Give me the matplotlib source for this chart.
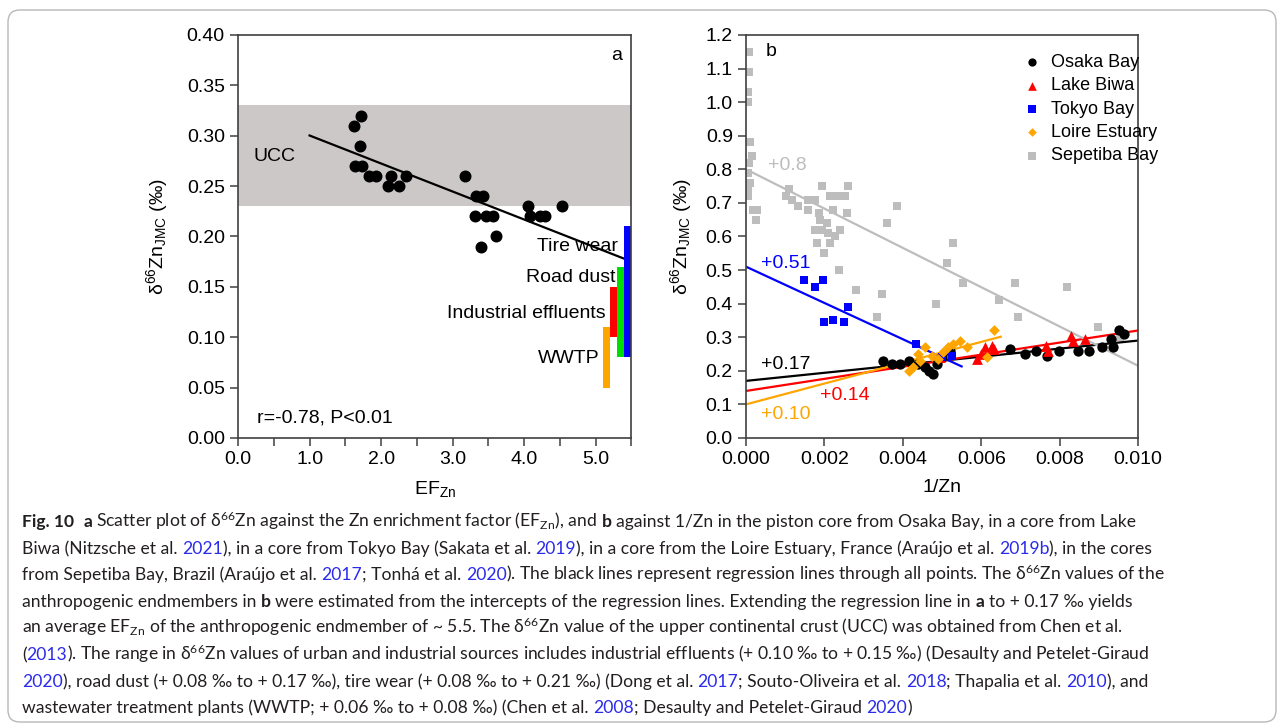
import matplotlib
matplotlib.use("Agg")
import matplotlib.pyplot as plt
from matplotlib.patches import FancyBboxPatch

plt.rcParams["font.family"] = ["Liberation Sans", "DejaVu Sans"]
plt.rcParams["mathtext.default"] = "regular"

# (a) Osaka Bay core: enrichment factor vs d66Zn
ef_zn = [1.72, 1.62, 1.70, 1.64, 1.73, 1.83, 1.93, 2.14, 2.35, 2.10, 2.25, 3.17,
         3.33, 3.43, 3.31, 3.46, 3.57, 3.61, 3.40, 4.06, 4.08, 4.22, 4.29, 4.53]
d66_a = [0.32, 0.31, 0.29, 0.27, 0.27, 0.26, 0.26, 0.26, 0.26, 0.25, 0.25, 0.26,
         0.24, 0.24, 0.22, 0.22, 0.22, 0.20, 0.19, 0.23, 0.22, 0.22, 0.22, 0.23]
fit_a = (-0.0278, 0.328)          # slope, intercept
fit_a_span = (1.0, 5.5)
ucc = (0.23, 0.33)

sources = ["WWTP", "Industrial effluents", "Road dust", "Tire wear"]
source_lo = [0.05, 0.10, 0.08, 0.08]
source_hi = [0.11, 0.15, 0.17, 0.21]
source_colors = ["#ffa500", "#ff0000", "#00dd00", "#0000ff"]

# (b) d66Zn vs 1/Zn for the different cores
osaka_x = [0.00350, 0.00372, 0.00393, 0.00415, 0.00440, 0.00457, 0.00466, 0.00478,
           0.00487, 0.00500, 0.00521, 0.00673, 0.00712, 0.00740, 0.00769, 0.00798,
           0.00846, 0.00876, 0.00907, 0.00935, 0.00932, 0.00952, 0.00964]
osaka_y = [0.23, 0.22, 0.22, 0.23, 0.22, 0.21, 0.20, 0.19, 0.22, 0.24, 0.26, 0.265,
           0.25, 0.26, 0.245, 0.26, 0.26, 0.26, 0.27, 0.27, 0.295, 0.32, 0.31]
biwa_x = [0.00495, 0.00590, 0.00600, 0.00610, 0.00627, 0.00632, 0.00765, 0.00770,
          0.00828, 0.00835, 0.00864]
biwa_y = [0.24, 0.235, 0.25, 0.27, 0.275, 0.265, 0.275, 0.26, 0.305, 0.29, 0.295]
tokyo_x = [0.00149, 0.00176, 0.00196, 0.00199, 0.00221, 0.00250, 0.00261, 0.00434,
           0.00499, 0.00525]
tokyo_y = [0.47, 0.45, 0.47, 0.345, 0.35, 0.345, 0.39, 0.28, 0.24, 0.245]
loire_x = [0.00417, 0.00425, 0.00440, 0.00445, 0.00457, 0.00474, 0.00490, 0.00502,
           0.00515, 0.00529, 0.00546, 0.00563, 0.00614, 0.00633]
loire_y = [0.20, 0.21, 0.25, 0.23, 0.27, 0.245, 0.235, 0.255, 0.27, 0.28, 0.29, 0.27,
           0.24, 0.32]
sep_x = [0.00008, 0.00008, 0.00006, 0.00006, 0.00010, 0.00015, 0.00008, 0.00010,
         0.00005, 0.00006, 0.00018, 0.00028, 0.00025, 0.00005,
         0.00110, 0.00103, 0.00117, 0.00133, 0.00159, 0.00176, 0.00193, 0.00214,
         0.00231, 0.00253, 0.00261, 0.00159, 0.00185, 0.00189, 0.00223, 0.00257,
         0.00176, 0.00193, 0.00206, 0.00210, 0.00240, 0.00180, 0.00214, 0.00227,
         0.00199, 0.00238, 0.00281, 0.00348, 0.00335, 0.00359, 0.00386, 0.00514,
         0.00529, 0.00553, 0.00485, 0.00645, 0.00686, 0.00695, 0.00820, 0.00899,
         0.00954]
sep_y = [1.15, 1.09, 1.03, 1.00, 0.88, 0.84, 0.82, 0.76, 0.74, 0.72, 0.68, 0.68,
         0.65, 0.79,
         0.74, 0.72, 0.71, 0.69, 0.71, 0.71, 0.75, 0.72, 0.72, 0.72, 0.75, 0.68,
         0.67, 0.65, 0.68, 0.67, 0.62, 0.62, 0.64, 0.61, 0.62, 0.58, 0.58, 0.60,
         0.55, 0.50, 0.44, 0.43, 0.36, 0.64, 0.69, 0.52, 0.58, 0.46, 0.40, 0.41,
         0.46, 0.36, 0.45, 0.33, 0.30]

cores = ["Osaka Bay", "Lake Biwa", "Tokyo Bay", "Loire Estuary", "Sepetiba Bay"]
intercepts = [0.17, 0.14, 0.51, 0.10, 0.8]
slopes = [12.0, 18.0, -54.0, 31.0, -58.5]
fit_end = [0.010, 0.010, 0.0055, 0.0065, 0.010]
core_colors = ["black", "#ff0000", "#0000ff", "#ffa500", "#bdbdbd"]
core_markers = ["o", "^", "s", "D", "s"]
core_sizes = [55, 60, 40, 30, 40]

fig = plt.figure(figsize=(12.84, 7.28), dpi=100)
ax_a = fig.add_axes([0.1854, 0.3984, 0.3064, 0.5536])
ax_b = fig.add_axes([0.5810, 0.3984, 0.3053, 0.5536])

for ax in (ax_a, ax_b):
    for s in ax.spines.values():
        s.set_color("#404040")
        s.set_linewidth(1.2)
    ax.tick_params(direction="out", length=6, width=1.1, color="#404040",
                   labelsize=14, top=False, right=False)

# ---- panel a ----
ax_a.axhspan(ucc[0], ucc[1], color="#ccc8c8", lw=0, zorder=0)
ax_a.scatter(ef_zn, d66_a, s=58, color="black", zorder=3)
xs = list(fit_a_span)
ax_a.plot(xs, [fit_a[0] * v + fit_a[1] for v in xs], color="black", lw=1.6, zorder=2)
for i, name in enumerate(sources):
    ax_a.bar(5.1 + 0.1 * i, source_hi[i] - source_lo[i], bottom=source_lo[i],
             width=0.1, align="edge", color=source_colors[i], zorder=2)
ax_a.text(0.22, 0.279, "UCC", fontsize=14, va="center")
ax_a.text(5.31, 0.19, "Tire wear", fontsize=14, va="center", ha="right")
ax_a.text(5.28, 0.159, "Road dust", fontsize=14, va="center", ha="right")
ax_a.text(5.14, 0.124, "Industrial effluents", fontsize=14, va="center", ha="right")
ax_a.text(5.06, 0.079, "WWTP", fontsize=14, va="center", ha="right")
ax_a.text(0.27, 0.02, "r=-0.78, P<0.01", fontsize=14, va="center")
ax_a.text(5.22, 0.38, "a", fontsize=14, va="center")

ax_a.set_xlim(0, 5.5)
ax_a.set_ylim(0, 0.40)
ax_a.set_xticks([i * 0.5 for i in range(12)])
ax_a.set_xticklabels(["%.1f" % (i * 0.5) if i % 2 == 0 else "" for i in range(12)])
ax_a.set_yticks([i * 0.05 for i in range(9)])
ax_a.set_yticklabels(["%.2f" % (i * 0.05) for i in range(9)])
ax_a.set_xlabel("EF$_{Zn}$", fontsize=14, labelpad=8)
ax_a.set_ylabel("δ$^{66}$Zn$_{JMC}$ (‰)", fontsize=14, labelpad=12)

# ---- panel b ----
series = [(osaka_x, osaka_y), (biwa_x, biwa_y), (tokyo_x, tokyo_y),
          (loire_x, loire_y), (sep_x, sep_y)]
for i in range(len(cores)):
    x, y = series[i]
    ax_b.scatter(x, y, s=core_sizes[i], marker=core_markers[i], color=core_colors[i],
                 linewidths=0, label=cores[i], zorder=1 if i == 4 else 3)
    ax_b.plot([0, fit_end[i]], [intercepts[i], intercepts[i] + slopes[i] * fit_end[i]],
              color=core_colors[i], lw=1.6, zorder=2)

ax_b.text(0.00055, 0.81, "+0.8", color="#bdbdbd", fontsize=14, va="center")
ax_b.text(0.00037, 0.52, "+0.51", color="#0000ff", fontsize=14, va="center")
ax_b.text(0.00037, 0.22, "+0.17", color="black", fontsize=14, va="center")
ax_b.text(0.0019, 0.125, "+0.14", color="#ff0000", fontsize=14, va="center")
ax_b.text(0.00037, 0.07, "+0.10", color="#ffa500", fontsize=14, va="center")
ax_b.text(0.0005, 1.15, "b", fontsize=14, va="center")

ax_b.set_xlim(0, 0.010)
ax_b.set_ylim(0, 1.2)
ax_b.set_xticks([i * 0.002 for i in range(6)])
ax_b.set_xticklabels(["%.3f" % (i * 0.002) for i in range(6)])
ax_b.set_yticks([i * 0.1 for i in range(13)])
ax_b.set_yticklabels(["%.1f" % (i * 0.1) for i in range(13)])
ax_b.set_xlabel("1/Zn", fontsize=14, labelpad=8)
ax_b.set_ylabel("δ$^{66}$Zn$_{JMC}$ (‰)", fontsize=14, labelpad=8)
ax_b.legend(loc="upper left", bbox_to_anchor=(0.664, 0.993), frameon=False,
            fontsize=13, handlelength=1.0, handletextpad=0.6, labelspacing=0.35,
            markerscale=0.8)

# ---- caption ----
N, B, L = "n", "b", "l"
caption = [
    [("Fig. 10", B), (" ", N), ("a", B),
     (" Scatter plot of δ$^{66}$Zn against the Zn enrichment factor (EF$_{Zn}$), and ", N),
     ("b", B), (" against 1/Zn in the piston core from Osaka Bay, in a core from Lake", N)],
    [("Biwa (Nitzsche et al. ", N), ("2021", L),
     ("), in a core from Tokyo Bay (Sakata et al. ", N), ("2019", L),
     ("), in a core from the Loire Estuary, France (Araújo et al. ", N), ("2019b", L),
     ("), in the cores", N)],
    [("from Sepetiba Bay, Brazil (Araújo et al. ", N), ("2017", L),
     ("; Tonhá et al. ", N), ("2020", L),
     ("). The black lines represent regression lines through all points. "
      "The δ$^{66}$Zn values of the", N)],
    [("anthropogenic endmembers in ", N), ("b", B),
     (" were estimated from the intercepts of the regression lines. "
      "Extending the regression line in ", N), ("a", B), (" to + 0.17 ‰ yields", N)],
    [("an average EF$_{Zn}$ of the anthropogenic endmember of ~ 5.5. The δ$^{66}$Zn value "
      "of the upper continental crust (UCC) was obtained from Chen et al.", N)],
    [("(", N), ("2013", L),
     ("). The range in δ$^{66}$Zn values of urban and industrial sources includes "
      "industrial effluents (+ 0.10 ‰ to + 0.15 ‰) (Desaulty and Petelet-Giraud", N)],
    [("2020", L), ("), road dust (+ 0.08 ‰ to + 0.17 ‰), tire wear (+ 0.08 ‰ to + 0.21 ‰) "
                   "(Dong et al. ", N), ("2017", L), ("; Souto-Oliveira et al. ", N),
     ("2018", L), ("; Thapalia et al. ", N), ("2010", L), ("), and", N)],
    [("wastewater treatment plants (WWTP; + 0.06 ‰ to + 0.08 ‰) (Chen et al. ", N),
     ("2008", L), ("; Desaulty and Petelet-Giraud ", N), ("2020", L), (")", N)],
]
baselines = [527, 554, 580, 607, 633, 660, 687, 713]

cap_font = ["Lato", "DejaVu Sans"]
cap_size = 12.6
W, H = 1284, 728
renderer = fig.canvas.get_renderer()


def text_width(s, weight="normal"):
    t = fig.text(0, 0, s, fontsize=cap_size, family=cap_font, weight=weight)
    w = t.get_window_extent(renderer).width
    t.remove()
    return w


space_w = text_width("x x") - text_width("xx")

for runs, base in zip(caption, baselines):
    x = 22.0
    for s, style in runs:
        core = s.strip(" ")
        x += (len(s) - len(s.lstrip(" "))) * space_w
        if core:
            t = fig.text(x / W, (H - base) / H, core, fontsize=cap_size, family=cap_font,
                         weight="bold" if style == B else "normal",
                         color="#2b2bea" if style == L else "#231f20", va="baseline")
            x += t.get_window_extent(renderer).width
        x += (len(s) - len(s.rstrip(" "))) * space_w

frame = FancyBboxPatch((0.08, 0.06), 12.68, 7.12, boxstyle="round,pad=0,rounding_size=0.12",
                       transform=fig.dpi_scale_trans, fill=False, ec="#b8b8b8", lw=1.0)
fig.patches.append(frame)

fig.savefig("out.png", dpi=100)
